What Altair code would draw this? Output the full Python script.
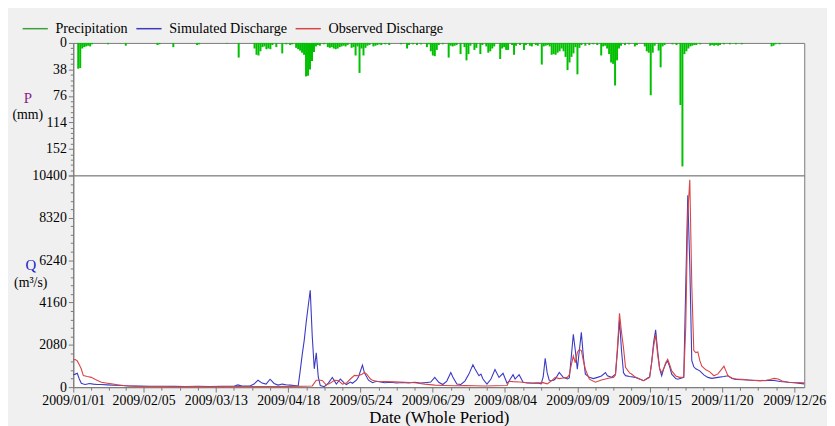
import altair as alt
import pandas as pd

# ---------------- data ----------------
# day index: 0 = 2009-01-01
precip_day = [0, 1, 2, 3, 4, 5, 6, 7, 15, 24, 40, 41, 48, 60, 61, 75, 81, 89, 90, 91, 92, 93, 94, 95, 96, 97, 98,
              100, 103, 105, 107, 108, 110, 111, 112, 113, 114, 115, 116, 117, 118, 119, 120, 121, 122, 124,
              126, 127, 128, 129, 130, 131, 132, 133, 134, 135, 136, 138, 139, 140, 141, 142, 143, 144, 145,
              146, 147, 149, 150, 151, 152, 153, 155, 157, 163, 166, 167, 169, 171, 173, 176, 177, 178, 179,
              180, 181, 182, 184, 187, 188, 189, 190, 191, 193, 195, 196, 197, 198, 200, 201, 203, 204, 206,
              207, 208, 209, 210, 213, 214, 215, 216, 217, 219, 220, 221, 223, 225, 226, 228, 229, 231, 232,
              234, 235, 236, 237, 238, 239, 240, 241, 242, 243, 244, 245, 246, 247, 248, 249, 250, 251, 252,
              253, 254, 256, 258, 260, 262, 264, 265, 266, 267, 268, 269, 270, 271, 272, 273, 274, 276, 278,
              281, 282, 286, 287, 288, 289, 290, 291, 293, 294, 295, 296, 300, 302, 304, 305, 306, 307, 308,
              309, 310, 311, 312, 314, 319, 320, 321, 322, 323, 324, 326, 329, 332, 335, 350, 351, 352, 354]
precip_mm = [37, 36, 8, 6, 5, 4, 5, 2, 2, 4, 3, 2, 6, 3, 2, 1, 21, 8, 17, 18, 12, 6, 5, 9, 8, 9, 3,
             6, 15, 2, 3, 2, 7, 9, 11, 14, 17, 48, 47, 38, 26, 13, 5, 3, 4, 2,
             6, 7, 6, 8, 9, 8, 6, 5, 4, 5, 3, 7, 6, 18, 5, 43, 8, 18, 7,
             4, 3, 5, 4, 3, 2, 3, 2, 3, 2, 8, 3, 2, 3, 2, 6, 2, 12, 18,
             19, 10, 3, 2, 21, 4, 5, 4, 3, 16, 6, 25, 16, 4, 10, 7, 16, 3, 5,
             14, 12, 8, 5, 23, 8, 6, 10, 10, 3, 17, 4, 3, 10, 3, 4, 5, 3, 4,
             31, 5, 4, 3, 5, 17, 16, 17, 14, 12, 8, 12, 20, 39, 28, 20, 15, 6, 45,
             7, 3, 4, 3, 2, 3, 18, 5, 4, 8, 16, 28, 30, 61, 25, 8, 4, 3, 2,
             5, 3, 5, 12, 14, 75, 14, 4, 11, 35, 5, 3, 2, 3, 89, 177, 16, 12, 8,
             5, 4, 3, 3, 2, 4, 3, 4, 3, 4, 3, 2, 2, 2, 2, 5, 4, 2, 2]

sim_day = [0, 1, 2, 3, 4, 5, 6, 8, 10, 12, 14, 17, 20, 24, 28, 33, 38, 44, 50, 56, 62, 68, 74, 80, 82, 84, 88,
           90, 92, 94, 96, 98, 100, 102, 104, 106, 108, 110, 112, 113, 114, 115, 116, 117, 118, 119, 120,
           121, 122, 123, 125, 127, 129, 131, 133, 135, 136, 138, 139, 141, 142, 144, 145, 147, 149, 151,
           153, 155, 158, 161, 164, 167, 170, 173, 176, 178, 180, 182, 184, 186, 188, 189, 191, 193, 195,
           197, 199, 200, 202, 203, 204, 206, 208, 210, 212, 214, 216, 217, 219, 220, 222, 224, 226, 229,
           231, 233, 234, 235, 236, 237, 239, 240, 242, 244, 246, 247, 248, 249, 250, 251, 252, 253, 254,
           255, 257, 259, 261, 263, 265, 266, 268, 270, 271, 272, 273, 274, 275, 277, 280, 282, 284, 286,
           287, 288, 289, 290, 291, 292, 293, 294, 295, 296, 297, 298, 300, 301, 303, 304, 305, 306, 307,
           308, 309, 310, 312, 314, 316, 318, 321, 324, 326, 328, 330, 334, 338, 342, 346, 349, 352, 356,
           360, 364]
sim_q = [610, 640, 680, 400, 190, 150, 130, 180, 150, 130, 130, 110, 90, 80, 60, 50, 45, 40, 40, 35, 40, 35, 40, 45, 110, 50, 60,
         150, 340, 200, 150, 390, 180, 100, 150, 120, 100, 80, 60, 800, 1600, 2300, 3200, 4000, 4760, 2500, 900,
         1690, 500, 80, 20, 200, 480, 150, 400, 200, 130, 250, 190, 340, 500, 1080, 700, 340, 220, 290,
         250, 220, 240, 200, 230, 210, 240, 200, 230, 250, 480, 240, 130, 300, 720, 500, 150, 130, 300,
         640, 1100, 900, 560, 640, 400, 150, 400, 870, 480, 680, 190, 300, 610, 400, 610, 240, 200, 190,
         200, 160, 500, 1420, 700, 340, 330, 400, 720, 480, 400, 450, 1500, 2600, 1800, 880, 1800, 2690, 1500,
         640, 480, 420, 480, 550, 720, 560, 480, 640, 1800, 3300, 1800, 700, 565, 520, 480, 400, 320, 450,
         500, 1200, 2200, 2820, 1770, 900, 560, 900, 1150, 1290, 1000, 640, 420, 390, 450, 480, 5000, 9430, 6000,
         1300, 1000, 900, 800, 600, 480, 430, 480, 520, 560, 420, 380, 360, 340, 320, 330, 330, 280, 240,
         200, 160]

obs_day = [0, 1, 2, 3, 4, 5, 7, 9, 11, 14, 17, 19, 22, 25, 28, 32, 38, 45, 52, 60, 68, 76, 84, 92, 100, 108,
           115, 119, 120, 121, 123, 124, 126, 128, 130, 132, 134, 136, 138, 140, 142, 144, 145, 146, 148, 149,
           151, 155, 160, 165, 170, 175, 180, 185, 190, 195, 200, 205, 210, 216, 217, 219, 222, 225, 229, 232,
           234, 236, 238, 240, 242, 244, 246, 247, 248, 249, 250, 251, 252, 253, 254, 255, 257, 260, 263, 265,
           267, 269, 270, 271, 272, 273, 274, 275, 277, 278, 280, 282, 284, 286, 287, 288, 289, 290, 291, 292,
           293, 294, 295, 296, 297, 298, 300, 302, 304, 305, 306, 307, 308, 309, 310, 311, 312, 313, 315, 317,
           319, 321, 323, 324, 325, 326, 328, 330, 333, 336, 339, 342, 345, 347, 349, 351, 353, 356, 360, 364]
obs_q = [1340, 1360, 1290, 1100, 890, 570, 520, 480, 380, 240, 190, 160, 120, 80, 60, 40, 30, 25, 20, 25, 20, 25, 30, 30, 35, 40,
         45, 60, 200, 340, 340, 330, 100, 200, 340, 330, 150, 200, 400, 580, 560, 650, 725, 650, 400, 340,
         290, 280, 260, 240, 220, 150, 100, 80, 70, 80, 70, 60, 70, 80, 290, 270, 250, 230, 200, 210,
         220, 160, 300, 480, 420, 450, 480, 600, 1100, 1530, 1200, 1700, 1850, 1800, 1300, 880, 390, 240, 350, 400,
         450, 480, 600, 2000, 3630, 2700, 1930, 970, 700, 645, 480, 400, 320, 420, 480, 1200, 2000, 2580, 1600, 900,
         720, 900, 1200, 1370, 1100, 800, 550, 480, 500, 3000, 8500, 10190, 5000, 1800, 1700, 1730, 1300, 1030, 850, 750,
         560, 650, 900, 1030, 800, 560, 450, 400, 380, 350, 330, 320, 340, 380, 430, 400, 300, 240, 230, 210]

series_names = ["Precipitation", "Simulated Discharge", "Observed Discharge"]
series_colors = ["#3d9e3d", "#3a3ac4", "#d94545"]
bar_color = "#00c000"

major_days = [0, 35, 71, 107, 143, 179, 215, 251, 287, 323, 359]
p_labels = [0, 38, 76, 114, 152]
q_labels = [0, 2080, 4160, 6240, 8320, 10400]
p_title = ["P", "(mm)"]
q_title = ["Q", "(m\u00b3/s)"]
x_title = "Date (Whole Period)"

# ---------------- tables ----------------
BASE = pd.Timestamp("2009-01-01")
BASE_MS = 1230768000000
DAY_MS = 86400000


def dstr(d):
    return (BASE + pd.Timedelta(days=d)).strftime("%Y-%m-%d")


precip_df = pd.DataFrame({"date": [dstr(d) for d in precip_day], "P": precip_mm})
q_df = pd.concat([
    pd.DataFrame({"date": [dstr(d) for d in sim_day], "Q": sim_q, "series": series_names[1]}),
    pd.DataFrame({"date": [dstr(d) for d in obs_day], "Q": obs_q, "series": series_names[2]}),
], ignore_index=True)

major_ms = [BASE_MS + d * DAY_MS for d in major_days]
minor_ms = []
for a, b in zip(major_days[:-1], major_days[1:]):
    step = (b - a) / 4
    for k in range(1, 4):
        minor_ms.append(int(BASE_MS + (a + k * step) * DAY_MS))
x_values = sorted(major_ms + minor_ms)
x_domain = [BASE_MS, BASE_MS + 364 * DAY_MS]

p_values = [round(i * 7.6, 4) for i in range(26)]
q_values = [i * 416 for i in range(26)]

FONT = "Liberation Serif"
W = 739
AX = dict(domainColor="#7a7a7a", tickColor="#7a7a7a", labelFont=FONT, labelFontSize=14,
          labelColor="#000000", grid=False, labelPadding=2)

x_major_test = f"indexof({major_ms}, time(datum.value)) >= 0"
x_scale = alt.Scale(type="utc", domain=x_domain, nice=False)

# ---------------- top: precipitation ----------------
p_axis = alt.Axis(values=p_values, title=None, format="d",
                  labelExpr=f"indexof({p_labels}, datum.value) >= 0 ? datum.label : ''",
                  tickSize={"condition": {"test": f"indexof({p_labels + [190]}, datum.value) >= 0", "value": 5},
                            "value": 3},
                  labelOverlap=False, **AX)

bars = alt.Chart(precip_df).mark_bar(width=2.0, color=bar_color).encode(
    x=alt.X("date:T", scale=x_scale, axis=None),
    y=alt.Y("P:Q", scale=alt.Scale(domain=[0, 190], reverse=True, nice=False), axis=p_axis),
)
p_text = alt.Chart(pd.DataFrame({"t": p_title, "dy": [56, 73], "c": ["#8a1e8a", "#000000"],
                                 "s": [15, 14]})).mark_text(
    font=FONT, align="center", baseline="middle").encode(
    text="t:N", x=alt.value(-46), y=alt.Y("dy:Q", scale=None), color=alt.Color("c:N", scale=None),
    size=alt.Size("s:Q", scale=None))
top = alt.layer(bars, p_text).properties(width=W, height=134)

# ---------------- bottom: discharge ----------------
x_axis = alt.Axis(values=x_values,
                  labelExpr=f"{x_major_test} ? utcFormat(datum.value, '%Y/%m/%d') : ''",
                  tickSize={"condition": {"test": x_major_test, "value": 5}, "value": 3},
                  labelOverlap=False, labelFlush=False, title=x_title, titleFont=FONT,
                  titleFontSize=17, titleFontWeight="normal", titleColor="#000000", titlePadding=2, **AX)
q_axis = alt.Axis(values=q_values, title=None, format="d",
                  labelExpr=f"indexof({q_labels}, datum.value) >= 0 ? datum.label : ''",
                  tickSize={"condition": {"test": f"indexof({q_labels}, datum.value) >= 0", "value": 5},
                            "value": 3},
                  labelOverlap=False, **AX)

lines = alt.Chart(q_df).mark_line(strokeWidth=1.1).encode(
    x=alt.X("date:T", scale=x_scale, axis=x_axis),
    y=alt.Y("Q:Q", scale=alt.Scale(domain=[0, 10400], nice=False), axis=q_axis),
    color=alt.Color("series:N", scale=alt.Scale(domain=series_names, range=series_colors),
                    legend=alt.Legend(orient="none", legendX=-52, legendY=-28, direction="horizontal",
                                      title=None, symbolType="stroke", symbolSize=650, symbolStrokeWidth=1.5,
                                      labelFont=FONT, labelFontSize=14.3, labelColor="#000000",
                                      labelOffset=7, columnPadding=4)),
    detail="series:N",
)
q_text = alt.Chart(pd.DataFrame({"t": q_title, "dy": [91, 109], "c": ["#1a1acc", "#000000"],
                                 "s": [15, 14]})).mark_text(
    font=FONT, align="center", baseline="middle").encode(
    text="t:N", x=alt.value(-43), y=alt.Y("dy:Q", scale=None), color=alt.Color("c:N", scale=None),
    size=alt.Size("s:Q", scale=None))
bottom = alt.layer(lines, q_text).properties(width=W, height=214)

chart = alt.vconcat(top, bottom, spacing=0, bounds="flush").resolve_scale(color="shared").properties(
    background="#f0f0f0",
    padding={"left": 3, "right": 0, "top": 5, "bottom": 0},
).configure_view(fill="#ffffff", stroke="#7a7a7a", strokeWidth=1)

chart.save("out.html", embed_options={"renderer": "svg", "actions": False})
